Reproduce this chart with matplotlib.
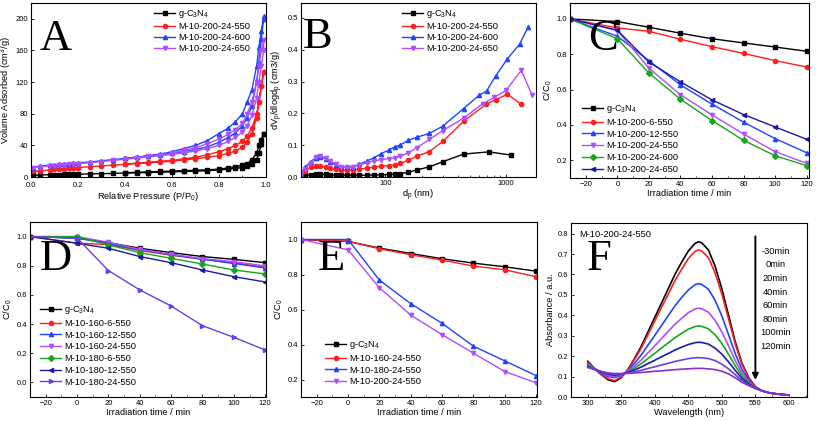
import matplotlib
matplotlib.use('Agg')
import matplotlib.pyplot as plt
from matplotlib.ticker import AutoMinorLocator, FixedLocator, NullFormatter

plt.rcParams['font.family'] = ['Liberation Sans', 'DejaVu Sans']
plt.rcParams['mathtext.fontset'] = 'custom'
plt.rcParams['mathtext.rm'] = 'Liberation Sans'
plt.rcParams['mathtext.it'] = 'Liberation Sans:italic'
plt.rcParams['mathtext.default'] = 'regular'

# ---------------- A: N2 isotherms ----------------
p_ads = [0.01, 0.04, 0.08, 0.10, 0.12, 0.14, 0.16, 0.18, 0.20, 0.25, 0.30, 0.35, 0.40, 0.45, 0.50,
         0.55, 0.60, 0.65, 0.70, 0.75, 0.80, 0.84, 0.87, 0.90, 0.92, 0.94, 0.96, 0.97, 0.98, 0.99]
p_des = [0.99, 0.98, 0.97, 0.96, 0.94, 0.92, 0.90, 0.87, 0.84, 0.80, 0.75, 0.70, 0.65, 0.60, 0.55,
         0.50, 0.45, 0.40]
a_gcn_ads = [2, 2.5, 3, 3, 3, 3.2, 3.3, 3.5, 3.5, 4, 4.2, 4.5, 5, 5.3, 5.6, 6, 6.5, 7, 7.5, 8, 9, 10,
             11, 12, 14, 17, 22, 30, 42, 55]
a_gcn_des = [55, 47, 40, 30, 22, 17, 15, 13, 11.5, 10, 9, 8.5, 8, 7.5, 7, 6.5, 6, 5.5]
a_550_ads = [7, 8, 9, 9.5, 10, 10.5, 11, 11.5, 12, 13, 14, 15, 16, 17, 18, 19, 20, 21.5, 23, 25, 27,
             30, 33, 38, 44, 55, 75, 95, 115, 133]
a_550_des = [133, 115, 95, 80, 62, 52, 45, 40, 36, 32, 28, 25, 23, 21, 20, 18.5, 17.5, 16.5]
a_600_ads = [12, 14, 15, 15.5, 16, 16.5, 17, 17.5, 18, 19, 20.5, 22, 23.5, 25, 26.5, 28, 30, 32, 35,
             38, 44, 50, 56, 65, 75, 90, 120, 145, 175, 200]
a_600_des = [203, 185, 165, 140, 110, 95, 80, 70, 62, 55, 46, 40, 36, 32, 29, 27, 25, 24]
a_650_ads = [12, 13, 14, 14.5, 15, 15.5, 16, 16.5, 17, 18, 19.5, 21, 22.5, 24, 25.5, 27, 28.5, 30.5,
             33, 36, 40, 45, 50, 57, 65, 78, 100, 120, 140, 160]
a_650_des = [173, 160, 140, 120, 95, 80, 68, 60, 54, 48, 42, 37, 34, 30, 28, 26, 24, 23]

# ---------------- B: pore size distribution ----------------
b_gcn_x = [20, 21.5, 24, 26.5, 29, 32, 35, 39, 43, 48, 54, 61, 70, 80, 92, 107, 120, 132, 155, 182,
           232, 300, 445, 720, 1100]
b_gcn_y = [0.002, 0.005, 0.007, 0.008, 0.008, 0.008, 0.007, 0.007, 0.006, 0.006, 0.006, 0.005, 0.006,
           0.006, 0.007, 0.008, 0.009, 0.010, 0.015, 0.022, 0.032, 0.048, 0.072, 0.079, 0.069]
b_550_x = [20, 21.5, 24, 26.5, 29, 32, 35, 39, 43, 48, 54, 61, 70, 80, 92, 107, 120, 132, 155, 182,
           232, 300, 445, 680, 820, 1030, 1340]
b_550_y = [0.008, 0.02, 0.03, 0.034, 0.034, 0.032, 0.027, 0.024, 0.022, 0.022, 0.023, 0.025, 0.028,
           0.031, 0.034, 0.036, 0.038, 0.043, 0.052, 0.065, 0.08, 0.112, 0.175, 0.228, 0.243, 0.26, 0.228]
b_600_x = [20, 21.5, 24, 26.5, 29, 32, 35, 39, 43, 48, 54, 61, 70, 80, 92, 107, 120, 132, 155, 182,
           232, 300, 445, 600, 690, 820, 1030, 1300, 1530]
b_600_y = [0.01, 0.03, 0.048, 0.06, 0.062, 0.058, 0.048, 0.038, 0.032, 0.03, 0.033, 0.04, 0.05, 0.06,
           0.073, 0.085, 0.095, 0.1, 0.115, 0.125, 0.137, 0.16, 0.215, 0.257, 0.27, 0.317, 0.372, 0.418, 0.472]
b_650_x = [20, 21.5, 24, 26.5, 29, 32, 35, 39, 43, 48, 54, 61, 70, 80, 92, 107, 120, 132, 155, 182,
           232, 300, 445, 640, 800, 1000, 1340, 1650]
b_650_y = [0.01, 0.025, 0.045, 0.063, 0.065, 0.06, 0.05, 0.04, 0.033, 0.03, 0.033, 0.038, 0.045, 0.05,
           0.055, 0.058, 0.06, 0.065, 0.076, 0.092, 0.118, 0.146, 0.185, 0.23, 0.25, 0.272, 0.335, 0.257]

# ---------------- C, D, E: degradation ----------------
t = [-30, 0, 20, 40, 60, 80, 100, 120]
c_gcn = [1.0, 0.985, 0.953, 0.919, 0.888, 0.864, 0.841, 0.817]
c_6_550 = [1.0, 0.949, 0.930, 0.885, 0.843, 0.805, 0.764, 0.728]
c_12_550 = [1.0, 0.902, 0.764, 0.627, 0.518, 0.416, 0.323, 0.243]
c_24_550 = [1.0, 0.934, 0.722, 0.571, 0.457, 0.349, 0.249, 0.183]
c_24_600 = [1.0, 0.888, 0.694, 0.546, 0.425, 0.313, 0.226, 0.170]
c_24_650 = [1.0, 0.936, 0.756, 0.644, 0.542, 0.459, 0.389, 0.319]

d_gcn = [1.0, 0.99, 0.959, 0.920, 0.890, 0.863, 0.844, 0.821]
d_160_6 = [1.0, 0.955, 0.945, 0.905, 0.872, 0.845, 0.820, 0.790]
d_160_12 = [1.0, 0.99, 0.950, 0.910, 0.875, 0.845, 0.815, 0.785]
d_160_24 = [1.0, 1.0, 0.961, 0.913, 0.879, 0.849, 0.828, 0.799]
d_180_6 = [1.0, 1.0, 0.943, 0.890, 0.851, 0.812, 0.771, 0.744]
d_180_12 = [1.0, 0.954, 0.920, 0.863, 0.821, 0.771, 0.725, 0.689]
d_180_24 = [1.0, 0.99, 0.767, 0.634, 0.524, 0.389, 0.309, 0.222]

e_gcn = [1.0, 0.989, 0.951, 0.920, 0.890, 0.865, 0.844, 0.819]
e_160_24 = [1.0, 0.99, 0.947, 0.913, 0.882, 0.848, 0.827, 0.787]
e_180_24 = [1.0, 1.0, 0.768, 0.633, 0.521, 0.390, 0.306, 0.222]
e_200_24 = [1.0, 0.941, 0.724, 0.568, 0.456, 0.350, 0.245, 0.181]

# ---------------- F: UV-vis spectra ----------------
wl = [300, 310, 320, 330, 340, 350, 360, 370, 380, 390, 400, 410, 420, 430, 440, 450, 460, 465, 470,
      480, 490, 500, 510, 520, 530, 540, 550, 560, 570, 580, 590, 600]
f_m30 = [0.175, 0.14, 0.11, 0.085, 0.075, 0.095, 0.135, 0.19, 0.25, 0.32, 0.39, 0.46, 0.53, 0.60, 0.66,
         0.715, 0.752, 0.76, 0.755, 0.72, 0.64, 0.53, 0.40, 0.27, 0.165, 0.095, 0.05, 0.03, 0.02, 0.015, 0.012, 0.01]
f_0 = [0.17, 0.14, 0.11, 0.09, 0.08, 0.098, 0.134, 0.185, 0.241, 0.307, 0.373, 0.439, 0.504, 0.570, 0.626,
       0.678, 0.713, 0.72, 0.715, 0.682, 0.607, 0.504, 0.382, 0.259, 0.159, 0.092, 0.05, 0.03, 0.021, 0.016, 0.012, 0.01]
f_20 = [0.165, 0.14, 0.115, 0.10, 0.095, 0.105, 0.129, 0.166, 0.207, 0.255, 0.302, 0.350, 0.398, 0.446, 0.487,
        0.524, 0.550, 0.555, 0.551, 0.528, 0.473, 0.397, 0.305, 0.212, 0.134, 0.082, 0.047, 0.03, 0.021, 0.016, 0.012, 0.01]
f_40 = [0.16, 0.14, 0.12, 0.105, 0.10, 0.108, 0.125, 0.152, 0.182, 0.217, 0.251, 0.286, 0.321, 0.356, 0.385,
        0.413, 0.431, 0.435, 0.432, 0.415, 0.375, 0.318, 0.250, 0.178, 0.116, 0.074, 0.046, 0.03, 0.021, 0.016, 0.012, 0.01]
f_60 = [0.155, 0.14, 0.122, 0.11, 0.105, 0.11, 0.122, 0.142, 0.164, 0.189, 0.214, 0.240, 0.265, 0.290, 0.312,
        0.332, 0.345, 0.348, 0.346, 0.334, 0.304, 0.262, 0.209, 0.153, 0.103, 0.069, 0.044, 0.03, 0.021, 0.016, 0.012, 0.01]
f_80 = [0.15, 0.135, 0.122, 0.112, 0.108, 0.112, 0.120, 0.133, 0.147, 0.164, 0.180, 0.197, 0.213, 0.230, 0.244,
        0.257, 0.266, 0.268, 0.267, 0.259, 0.239, 0.210, 0.172, 0.130, 0.091, 0.064, 0.043, 0.03, 0.021, 0.016, 0.012, 0.01]
f_100 = [0.145, 0.135, 0.125, 0.115, 0.112, 0.113, 0.117, 0.124, 0.131, 0.140, 0.148, 0.157, 0.165, 0.174, 0.181,
         0.188, 0.192, 0.193, 0.192, 0.188, 0.178, 0.161, 0.138, 0.109, 0.080, 0.059, 0.042, 0.03, 0.021, 0.016, 0.012, 0.01]
f_120 = [0.145, 0.135, 0.125, 0.118, 0.115, 0.115, 0.116, 0.118, 0.120, 0.123, 0.126, 0.128, 0.131, 0.134, 0.136,
         0.138, 0.140, 0.140, 0.140, 0.138, 0.134, 0.126, 0.113, 0.094, 0.072, 0.056, 0.041, 0.03, 0.021, 0.016, 0.012, 0.01]
f_labels = ['-30min', '0min', '20min', '40min', '60min', '80min', '100min', '120min']

BLACK = '#000000'
RED = '#ff1f1f'
BLUE = '#1f45ff'
PURPLE = '#b04dff'
GREEN = '#16a816'
NAVY = '#1a1aa6'
VIOLET = '#6a3de6'
PLUM = '#8a2fc8'

W, H = 816, 421
fig = plt.figure(figsize=(W / 100, H / 100), dpi=100)


def axes_px(l, t_, r, b):
    return fig.add_axes([l / W, 1 - b / H, (r - l) / W, (b - t_) / H])


def style(ax):
    ax.tick_params(which='major', direction='in', labelsize=5.5, length=2.5, width=0.6, pad=2,
                   top=False, right=False)
    ax.tick_params(which='minor', direction='in', length=1.5, width=0.5, top=False, right=False)
    for s in ax.spines.values():
        s.set_linewidth(0.8)


def leg(ax, x, y, sp=0.3):
    ax.legend(loc='upper left', bbox_to_anchor=(x / W, 1 - y / H), bbox_transform=fig.transFigure,
              frameon=False, fontsize=6.7, handlelength=2.3, handletextpad=0.3, labelspacing=sp,
              borderpad=0, borderaxespad=0)


def letter(s, x, y):
    fig.text(x / W, 1 - y / H, s, fontsize=32, family='Liberation Serif', va='baseline', ha='left')


ms = 3
lw = 1.0
gcn = 'g-C$_3$N$_4$'

# ---- A ----
ax = axes_px(31, 3, 266, 177)
for ads, des, c, m, lab in [(a_gcn_ads, a_gcn_des, BLACK, 's', gcn),
                            (a_550_ads, a_550_des, RED, 'o', 'M-10-200-24-550'),
                            (a_600_ads, a_600_des, BLUE, '^', 'M-10-200-24-600'),
                            (a_650_ads, a_650_des, PURPLE, 'v', 'M-10-200-24-650')]:
    ax.plot(p_ads + p_des, ads + des, color=c, marker=m, ms=ms, lw=lw, label=lab)
ax.set_xlim(0, 1.0)
ax.set_ylim(0, 220)
ax.set_xticks([0.0, 0.2, 0.4, 0.6, 0.8, 1.0])
ax.set_xticklabels(['0.0', '0.2', '0.4', '0.6', '0.8', '1.0'])
ax.set_yticks([0, 40, 80, 120, 160, 200])
ax.xaxis.set_minor_locator(AutoMinorLocator(2))
ax.set_xlabel('Relative Pressure (P/P$_0$)', fontsize=6.7, labelpad=1)
ax.set_ylabel('Volume Adsorbed (cm$^3$/g)', fontsize=6.7, labelpad=1)
style(ax)
ax.tick_params(axis='x', pad=3.5)
leg(ax, 154, 8, 0.22)
letter('A', 40, 50)

# ---- B ----
ax = axes_px(301, 3, 536, 177)
for xs, ys, c, m, lab in [(b_gcn_x, b_gcn_y, BLACK, 's', gcn),
                          (b_550_x, b_550_y, RED, 'o', 'M-10-200-24-550'),
                          (b_600_x, b_600_y, BLUE, '^', 'M-10-200-24-600'),
                          (b_650_x, b_650_y, PURPLE, 'v', 'M-10-200-24-650')]:
    ax.plot(xs, ys, color=c, marker=m, ms=ms, lw=lw, label=lab)
ax.set_xscale('log')
ax.set_xlim(20, 1775)
ax.set_ylim(0, 0.547)
ax.xaxis.set_major_locator(FixedLocator([100, 1000]))
ax.set_xticklabels(['100', '1000'])
ax.xaxis.set_minor_locator(FixedLocator([30, 40, 50, 60, 70, 80, 90, 200, 300, 400, 500, 600, 700, 800, 900]))
ax.xaxis.set_minor_formatter(NullFormatter())
ax.set_yticks([0.0, 0.1, 0.2, 0.3, 0.4, 0.5])
ax.set_yticklabels(['0.0', '0.1', '0.2', '0.3', '0.4', '0.5'])
ax.set_xlabel('d$_p$ (nm)', fontsize=6.7, labelpad=1)
ax.set_ylabel('dV$_p$/dlogd$_p$ (cm3/g)', fontsize=6.7, labelpad=2)
style(ax)
leg(ax, 402, 8, 0.22)
letter('B', 303, 48)

# ---- C ----
ax = axes_px(570, 3, 809, 178)
for ys, c, m, lab in [(c_gcn, BLACK, 's', gcn), (c_6_550, RED, 'o', 'M-10-200-6-550'),
                      (c_12_550, BLUE, '^', 'M-10-200-12-550'), (c_24_550, PURPLE, 'v', 'M-10-200-24-550'),
                      (c_24_600, GREEN, 'D', 'M-10-200-24-600'), (c_24_650, NAVY, '<', 'M-10-200-24-650')]:
    ax.plot(t, ys, color=c, marker=m, ms=ms, lw=lw, label=lab)
ax.set_xlim(-30, 121.5)
ax.set_ylim(0.1, 1.09)
ax.set_xticks([-20, 0, 20, 40, 60, 80, 100, 120])
ax.set_yticks([0.2, 0.4, 0.6, 0.8, 1.0])
ax.set_yticklabels(['0.2', '0.4', '0.6', '0.8', '1.0'])
ax.xaxis.set_minor_locator(AutoMinorLocator(2))
ax.set_xlabel('Irradiation time / min', fontsize=6.7, labelpad=1)
ax.set_ylabel('C/C$_0$', fontsize=6.7, labelpad=2)
style(ax)
leg(ax, 582, 103)
letter('C', 588, 50)

# ---- D ----
ax = axes_px(30, 222, 266, 397)
for ys, c, m, lab in [(d_gcn, BLACK, 's', gcn), (d_160_6, RED, 'o', 'M-10-160-6-550'),
                      (d_160_12, BLUE, '^', 'M-10-160-12-550'), (d_160_24, PURPLE, 'v', 'M-10-160-24-550'),
                      (d_180_6, GREEN, 'D', 'M-10-180-6-550'), (d_180_12, NAVY, '<', 'M-10-180-12-550'),
                      (d_180_24, VIOLET, '>', 'M-10-180-24-550')]:
    ax.plot(t, ys, color=c, marker=m, ms=ms, lw=lw, label=lab)
ax.set_xlim(-30, 120.5)
ax.set_ylim(-0.1, 1.1)
ax.set_xticks([-20, 0, 20, 40, 60, 80, 100, 120])
ax.set_yticks([0.0, 0.2, 0.4, 0.6, 0.8, 1.0])
ax.set_yticklabels(['0.0', '0.2', '0.4', '0.6', '0.8', '1.0'])
ax.xaxis.set_minor_locator(AutoMinorLocator(2))
ax.set_xlabel('Irradiation time / min', fontsize=6.7, labelpad=1)
ax.set_ylabel('C/C$_0$', fontsize=6.7, labelpad=2)
style(ax)
leg(ax, 40, 304)
letter('D', 40, 270)

# ---- E ----
ax = axes_px(301, 222, 537, 397)
for ys, c, m, lab in [(e_gcn, BLACK, 's', gcn), (e_160_24, RED, 'o', 'M-10-160-24-550'),
                      (e_180_24, BLUE, '^', 'M-10-180-24-550'), (e_200_24, PURPLE, 'v', 'M-10-200-24-550')]:
    ax.plot(t, ys, color=c, marker=m, ms=ms, lw=lw, label=lab)
ax.set_xlim(-30, 120.5)
ax.set_ylim(0.1, 1.1)
ax.set_xticks([-20, 0, 20, 40, 60, 80, 100, 120])
ax.set_yticks([0.2, 0.4, 0.6, 0.8, 1.0])
ax.set_yticklabels(['0.2', '0.4', '0.6', '0.8', '1.0'])
ax.xaxis.set_minor_locator(AutoMinorLocator(2))
ax.set_xlabel('Irradiation time / min', fontsize=6.7, labelpad=1)
ax.set_ylabel('C/C$_0$', fontsize=6.7, labelpad=2)
style(ax)
leg(ax, 325, 339)
letter('E', 318, 270)

# ---- F ----
ax = axes_px(571, 223, 807, 397)
for ys, c in zip([f_m30, f_0, f_20, f_40, f_60, f_80, f_100, f_120],
                 [BLACK, RED, BLUE, PURPLE, GREEN, NAVY, VIOLET, PLUM]):
    ax.plot(wl, ys, color=c, lw=1.2)
ax.set_xlim(275, 627)
ax.set_ylim(0, 0.852)
ax.set_xticks([300, 350, 400, 450, 500, 550, 600])
ax.set_yticks([0.0, 0.1, 0.2, 0.3, 0.4, 0.5, 0.6, 0.7, 0.8])
ax.set_yticklabels(['0.0', '0.1', '0.2', '0.3', '0.4', '0.5', '0.6', '0.7', '0.8'])
ax.xaxis.set_minor_locator(AutoMinorLocator(2))
ax.set_xlabel('Wavelength (nm)', fontsize=6.7, labelpad=1)
ax.set_ylabel('Absorbance / a.u.', fontsize=6.7, labelpad=2)
style(ax)
ax.annotate('', xy=(550, 0.07), xytext=(550, 0.80),
            arrowprops=dict(arrowstyle='-|>', lw=1.4, color='k', mutation_scale=9))
for i, lab in enumerate(f_labels):
    ax.text(580, 0.713 - i * 0.0664, lab, fontsize=6.7, ha='center', va='center')
ax.text(288, 0.796, 'M-10-200-24-550', fontsize=6.7, ha='left', va='center')
letter('F', 587, 270)

fig.savefig('out.png', dpi=100)
